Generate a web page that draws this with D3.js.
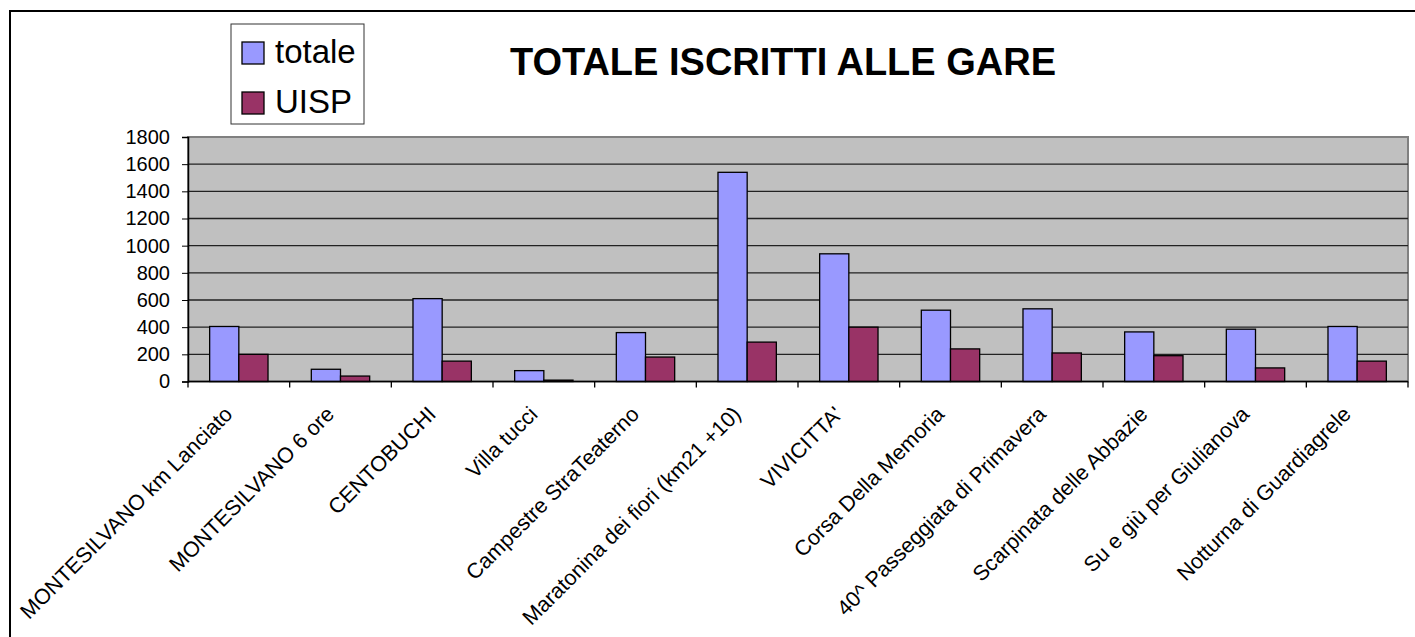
<!DOCTYPE html>
<html>
<head>
<meta charset="utf-8">
<script src="https://cdn.jsdelivr.net/npm/d3@7"></script>
<style>
  body { margin: 0; background: #fff; }
  svg { display: block; font-family: "Liberation Sans", Arial, sans-serif; }
</style>
</head>
<body>
<div id="chart"></div>
<script>
// Data
const categories = [
  "MONTESILVANO km Lanciato", "MONTESILVANO 6 ore", "CENTOBUCHI", "Villa tucci",
  "Campestre StraTeaterno", "Maratonina dei fiori (km21 +10)", "VIVICITTA'",
  "Corsa Della Memoria", "40^ Passeggiata di Primavera", "Scarpinata delle Abbazie",
  "Su e giù per Giulianova", "Notturna di Guardiagrele"
];
const totale = [405, 90, 610, 80, 360, 1540, 940, 525, 535, 365, 385, 405];
const uisp = [200, 40, 150, 10, 180, 290, 400, 240, 210, 190, 100, 150];
const seriesNames = ["totale", "UISP"];
const colors = ["#9999FF", "#993366"];
const yTicks = [0, 200, 400, 600, 800, 1000, 1200, 1400, 1600, 1800];

const W = 1415, H = 637;
const plot = { left: 188, right: 1408, top: 137, bottom: 381.5 };

const svg = d3.select("#chart")
  .append("svg")
  .attr("width", W)
  .attr("height", H);

// outer chart border (only left and top visible)
svg.append("rect")
  .attr("x", 10).attr("y", 11)
  .attr("width", W + 20).attr("height", H + 20)
  .attr("fill", "#fff")
  .attr("stroke", "#000")
  .attr("stroke-width", 2);

const x0 = d3.scaleBand()
  .domain(categories)
  .range([plot.left, plot.right]);

const inset = x0.bandwidth() * 0.213;
const x1 = d3.scaleBand()
  .domain(seriesNames)
  .range([inset, x0.bandwidth() - inset]);

const y = d3.scaleLinear()
  .domain([0, 1800])
  .range([plot.bottom, plot.top]);

// plot background
svg.append("rect")
  .attr("x", plot.left).attr("y", plot.top)
  .attr("width", plot.right - plot.left)
  .attr("height", plot.bottom - plot.top)
  .attr("fill", "#C0C0C0")
  .attr("stroke", "#808080")
  .attr("stroke-width", 2);

// gridlines
svg.append("g")
  .selectAll("line")
  .data(yTicks.filter(d => d > 0 && d < 1800))
  .join("line")
  .attr("x1", plot.left).attr("x2", plot.right)
  .attr("y1", d => y(d)).attr("y2", d => y(d))
  .attr("stroke", "#222")
  .attr("stroke-width", 1.3);

// bars
const groups = svg.append("g")
  .selectAll("g")
  .data(categories.map((c, i) => ({ c, vals: [totale[i], uisp[i]] })))
  .join("g")
  .attr("transform", d => `translate(${x0(d.c)},0)`);

groups.selectAll("rect")
  .data(d => d.vals.map((v, j) => ({ name: seriesNames[j], v, j })))
  .join("rect")
  .attr("x", d => x1(d.name))
  .attr("y", d => y(d.v))
  .attr("width", x1.bandwidth())
  .attr("height", d => plot.bottom - y(d.v))
  .attr("fill", d => colors[d.j])
  .attr("stroke", "#000")
  .attr("stroke-width", 1.3);

// y axis
const yAxis = d3.axisLeft(y).tickValues(yTicks).tickFormat(d3.format("d")).tickSize(6).tickPadding(12);
const yg = svg.append("g")
  .attr("transform", `translate(${plot.left},0)`)
  .call(yAxis);
yg.select(".domain").attr("stroke", "#000").attr("stroke-width", 1.5);
yg.selectAll(".tick line").attr("stroke", "#000");
yg.selectAll("text")
  .attr("font-size", 20)
  .attr("font-family", "Liberation Sans, Arial, sans-serif")
  .attr("fill", "#000");

// x axis line and ticks at category boundaries
svg.append("line")
  .attr("x1", plot.left).attr("x2", plot.right)
  .attr("y1", plot.bottom).attr("y2", plot.bottom)
  .attr("stroke", "#000").attr("stroke-width", 1.5);

const bounds = categories.map(c => x0(c)).concat([plot.right]);
svg.append("g")
  .selectAll("line")
  .data(bounds)
  .join("line")
  .attr("x1", d => d).attr("x2", d => d)
  .attr("y1", plot.bottom).attr("y2", plot.bottom + 6)
  .attr("stroke", "#000").attr("stroke-width", 1.3);

// x labels, rotated
svg.append("g")
  .selectAll("text")
  .data(categories)
  .join("text")
  .attr("transform", d => `translate(${x0(d) + x0.bandwidth() / 2 - 5},${plot.bottom + 34}) rotate(-45)`)
  .attr("text-anchor", "end")
  .attr("font-size", 21.5)
  .attr("fill", "#000")
  .text(d => d);

// title
svg.append("text")
  .attr("x", 783).attr("y", 75)
  .attr("text-anchor", "middle")
  .attr("font-size", 38)
  .attr("font-weight", "bold")
  .attr("fill", "#000")
  .text("TOTALE ISCRITTI ALLE GARE");

// legend
const legend = svg.append("g").attr("transform", "translate(231,24)");
legend.append("rect")
  .attr("width", 133).attr("height", 100)
  .attr("fill", "#fff")
  .attr("stroke", "#333")
  .attr("stroke-width", 1);

const items = legend.selectAll("g")
  .data(seriesNames)
  .join("g")
  .attr("transform", (d, i) => `translate(11,${18 + i * 50})`);
items.append("rect")
  .attr("width", 22).attr("height", 22)
  .attr("fill", (d, i) => colors[i])
  .attr("stroke", "#000")
  .attr("stroke-width", 1.3);
items.append("text")
  .attr("x", 33).attr("y", 21)
  .attr("font-size", 33)
  .attr("fill", "#000")
  .text(d => d);
</script>
</body>
</html>
